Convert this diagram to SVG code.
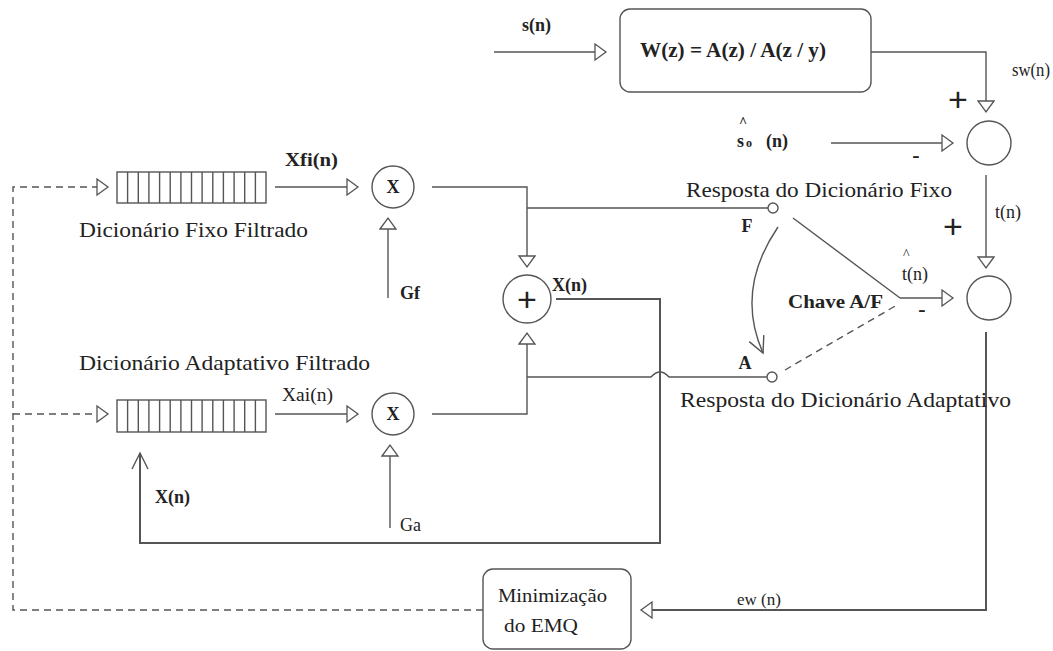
<svg xmlns="http://www.w3.org/2000/svg" width="1053" height="651" viewBox="0 0 1053 651">
<defs>
<style>
.ln{fill:none;stroke:#555;stroke-width:1.4}
.thk{fill:none;stroke:#555;stroke-width:2}
.dsh{fill:none;stroke:#555;stroke-width:1.4;stroke-dasharray:7 5}
.box{fill:#fff;stroke:#555;stroke-width:1.4}
.t{font-family:"Liberation Serif","Times New Roman",serif;fill:#222}
.b{font-weight:bold}
.big{font-size:21px}
.lab{font-size:18px}
.sym{font-family:"Liberation Sans",Arial,sans-serif;fill:#222}
</style>
<marker id="tri" markerUnits="userSpaceOnUse" markerWidth="14" markerHeight="20" refX="12" refY="9" orient="auto">
<path d="M1,1 L12,9 L1,17 Z" fill="#fff" stroke="#555" stroke-width="1.3"/>
</marker>
<marker id="vee" markerUnits="userSpaceOnUse" markerWidth="20" markerHeight="20" refX="17" refY="9" orient="auto">
<path d="M1,1 L17,9 L1,17" fill="none" stroke="#555" stroke-width="1.4"/>
</marker>
</defs>

<g id="connectors">
<path class="ln" d="M494,52 H606" marker-end="url(#tri)"/>
<path class="ln" d="M871,52 H986 V112" marker-end="url(#tri)"/>
<path class="ln" d="M831,143 H953" marker-end="url(#tri)"/>
<path class="ln" d="M986,175 V268" marker-end="url(#tri)"/>
<path class="ln" d="M900,298 H953" marker-end="url(#tri)"/>
<path class="thk" d="M986,332 V610 H641" marker-end="url(#tri)"/>
<path class="dsh" d="M483,610 H13 V187 H108" marker-end="url(#tri)"/>
<path class="dsh" d="M13,414 H108" marker-end="url(#tri)"/>
<path class="ln" d="M275,187 H358" marker-end="url(#tri)"/>
<path class="ln" d="M275,414 H358" marker-end="url(#tri)"/>
<path class="ln" d="M388,298 V218" marker-end="url(#tri)"/>
<path class="ln" d="M390,528 V445" marker-end="url(#tri)"/>
<path class="ln" d="M432,187 H527 V267" marker-end="url(#tri)"/>
<path class="ln" d="M527,208 H768"/>
<path class="ln" d="M432,414 H527 V333" marker-end="url(#tri)"/>
<path class="ln" d="M527,377 H651 Q660,367 669,377 H767"/>
<path class="thk" d="M556,299 H660 V543 H140 V453" marker-end="url(#vee)"/>
<path class="ln" d="M793,218 L900,298"/>
<path class="dsh" d="M785,370 L897,305"/>
<path class="ln" d="M778,227 Q735,290 763,353" marker-end="url(#vee)"/>
</g>

<g id="filter-w">
<rect class="box" x="620" y="9" width="251" height="83" rx="10"/>
<text class="t b" x="640" y="57" font-size="21" textLength="186" lengthAdjust="spacingAndGlyphs">W(z) = A(z) / A(z / y)</text>
</g>

<g id="sum-top">
<circle class="box" cx="989" cy="143" r="22"/>
</g>

<g id="sum-bottom">
<circle class="box" cx="989" cy="298" r="22"/>
</g>

<g id="dict-fixed">
<rect class="box" x="117" y="172" width="149" height="31"/>
<path class="ln" d="M127.6,172V203M138.3,172V203M148.9,172V203M159.6,172V203M170.2,172V203M180.9,172V203M191.5,172V203M202.1,172V203M212.8,172V203M223.4,172V203M234.1,172V203M244.7,172V203M255.4,172V203"/>
<text class="t big" x="79" y="237" textLength="229" lengthAdjust="spacingAndGlyphs">Dicionário Fixo Filtrado</text>
</g>

<g id="dict-adaptive">
<rect class="box" x="117" y="400" width="149" height="32"/>
<path class="ln" d="M127.6,400V432M138.3,400V432M148.9,400V432M159.6,400V432M170.2,400V432M180.9,400V432M191.5,400V432M202.1,400V432M212.8,400V432M223.4,400V432M234.1,400V432M244.7,400V432M255.4,400V432"/>
<text class="t big" x="79" y="370" textLength="291" lengthAdjust="spacingAndGlyphs">Dicionário Adaptativo Filtrado</text>
</g>

<g id="mult-fixed">
<circle class="box" cx="393" cy="187" r="21"/>
<text class="t b lab" x="393" y="193" text-anchor="middle">X</text>
</g>

<g id="mult-adaptive">
<circle class="box" cx="393" cy="414" r="21"/>
<text class="t b lab" x="393" y="420" text-anchor="middle">X</text>
</g>

<g id="adder">
<circle class="box" cx="527" cy="299" r="24"/>
<text class="sym" x="527" y="311" font-size="34" text-anchor="middle">+</text>
</g>

<g id="switch">
<circle class="box" cx="773" cy="208" r="5"/>
<circle class="box" cx="772" cy="377" r="5"/>
<text class="t b lab" x="747" y="232" text-anchor="middle">F</text>
<text class="t b lab" x="745" y="369" text-anchor="middle">A</text>
<text class="t b lab" x="788" y="308" textLength="95" lengthAdjust="spacingAndGlyphs">Chave A/F</text>
</g>

<g id="minimizacao">
<rect class="box" x="483" y="569" width="148" height="80" rx="10"/>
<text class="t" x="498" y="602" font-size="18" textLength="109" lengthAdjust="spacingAndGlyphs">Minimização</text>
<text class="t" x="504" y="632" font-size="18" textLength="74" lengthAdjust="spacingAndGlyphs">do EMQ</text>
</g>

<g id="labels">
<text class="t b lab" x="522" y="31">s(n)</text>
<text class="t lab" x="1012" y="76" textLength="38" lengthAdjust="spacingAndGlyphs">sw(n)</text>
<text class="sym" x="958" y="111" font-size="34" text-anchor="middle">+</text>
<text class="t b" x="739" y="127" font-size="14">^</text>
<text class="t b lab" x="737" y="147">s</text>
<text class="t b" x="746" y="147" font-size="12">o</text>
<text class="t b lab" x="766" y="147">(n)</text>
<text class="t b" x="916" y="162" font-size="22" text-anchor="middle">-</text>
<text class="t big" x="686" y="197" textLength="266" lengthAdjust="spacingAndGlyphs">Resposta do Dicionário Fixo</text>
<text class="t lab" x="995" y="218">t(n)</text>
<text class="sym" x="953" y="238" font-size="34" text-anchor="middle">+</text>
<text class="t" x="903" y="259" font-size="14">^</text>
<text class="t lab" x="902" y="280">t(n)</text>
<text class="t b" x="922" y="316" font-size="22" text-anchor="middle">-</text>
<text class="t big" x="680" y="407" textLength="331" lengthAdjust="spacingAndGlyphs">Resposta do Dicionário Adaptativo</text>
<text class="t b lab" x="285" y="166" textLength="53" lengthAdjust="spacingAndGlyphs">Xfi(n)</text>
<text class="t b lab" x="400" y="299">Gf</text>
<text class="t b lab" x="552" y="291">X(n)</text>
<text class="t lab" x="282" y="401" textLength="51" lengthAdjust="spacingAndGlyphs">Xai(n)</text>
<text class="t b lab" x="155" y="503">X(n)</text>
<text class="t lab" x="400" y="531">Ga</text>
<text class="t" x="737" y="605" font-size="17">ew  (n)</text>
</g>
</svg>
